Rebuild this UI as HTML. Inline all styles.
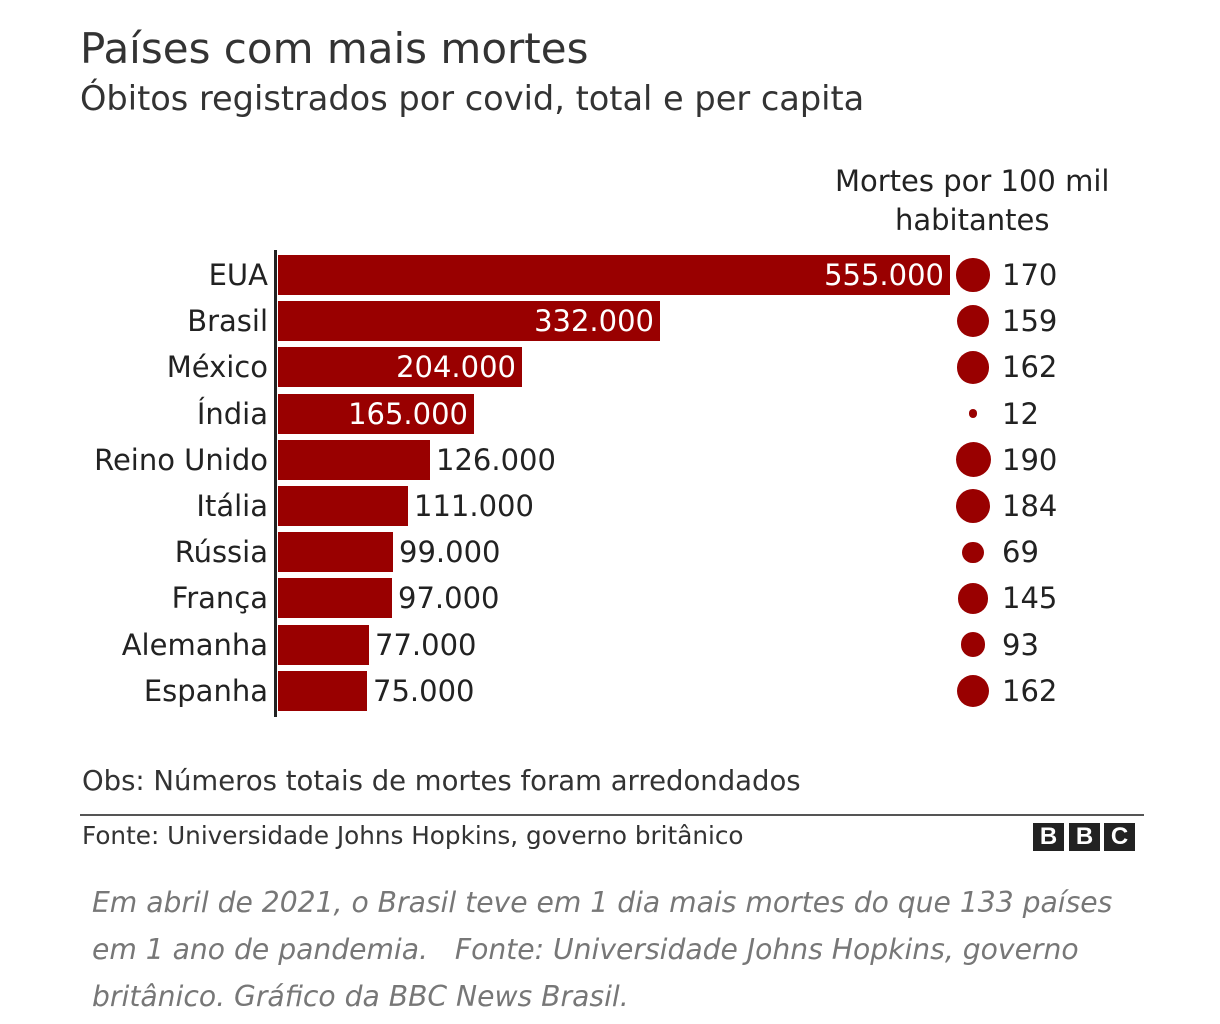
<!DOCTYPE html>
<html><head><meta charset="utf-8"><style>
body{margin:0;width:1220px;height:1024px;background:#fff;position:relative;font-family:"DejaVu Sans","Liberation Sans",sans-serif;color:#222;overflow:hidden}
.a{position:absolute;white-space:nowrap}
.lbl{position:absolute;right:952px;font-size:29px;line-height:40px}
.bar{position:absolute;left:278px;height:40px;background:#990000}
.val{position:absolute;font-size:29px;line-height:40px}
.dot{position:absolute;border-radius:50%;background:#990000}
.pc{position:absolute;left:1002px;font-size:29px;line-height:40px}
.b{position:absolute;top:823px;width:31px;height:28px;background:#222;color:#fff;font:bold 24px "Liberation Sans",sans-serif;text-align:center;line-height:28px}
</style></head><body>
<div class="a" style="left:80px;top:24px;font-size:42px;color:#333">Países com mais mortes</div>
<div class="a" style="left:80px;top:79px;font-size:33.6px;color:#333">Óbitos registrados por covid, total e per capita</div>
<div class="a" style="left:835px;top:162px;font-size:29px;text-align:center;line-height:39px">Mortes por 100 mil<br>habitantes</div>
<div class="a" style="left:274px;top:250px;width:3px;height:467px;background:#222"></div>
<div id="c"></div>
<div class="a" style="left:82px;top:765px;font-size:27.5px;color:#333">Obs: Números totais de mortes foram arredondados</div>
<div class="a" style="left:80px;top:814px;width:1064px;height:2px;background:#555"></div>
<div class="a" style="left:82px;top:821px;font-size:24.7px;color:#333">Fonte: Universidade Johns Hopkins, governo britânico</div>
<div class="b" style="left:1033px">B</div><div class="b" style="left:1069px">B</div><div class="b" style="left:1104px">C</div>
<div class="a" style="left:92px;top:879px;font-size:28.2px;font-style:italic;color:#777;line-height:47px">Em abril de 2021, o Brasil teve em 1 dia mais mortes do que 133 países<br>em 1 ano de pandemia. &nbsp; Fonte: Universidade Johns Hopkins, governo<br>britânico. Gráfico da BBC News Brasil.</div>
<script>
var d=[["EUA",950,"555.000",170],["Brasil",660,"332.000",159],["México",522,"204.000",162],["Índia",474,"165.000",12],["Reino Unido",430,"126.000",190],["Itália",408,"111.000",184],["Rússia",393,"99.000",69],["França",392,"97.000",145],["Alemanha",369,"77.000",93],["Espanha",367,"75.000",162]];
var h="";
d.forEach(function(r,i){var cy=275+i*46.2,t=cy-20;
h+='<div class="lbl" style="top:'+t+'px">'+r[0]+'</div>';
h+='<div class="bar" style="top:'+t+'px;width:'+(r[1]-278)+'px"></div>';
if(i<4)h+='<div class="val" style="top:'+t+'px;right:'+(1220-r[1]+6)+'px;color:#fff">'+r[2]+'</div>';
else h+='<div class="val" style="top:'+t+'px;left:'+(r[1]+6)+'px">'+r[2]+'</div>';
var rr=17.5*Math.sqrt(r[3]/190);
h+='<div class="dot" style="left:'+(973-rr)+'px;top:'+(cy-rr)+'px;width:'+2*rr+'px;height:'+2*rr+'px"></div>';
h+='<div class="pc" style="top:'+t+'px">'+r[3]+'</div>';});
document.getElementById("c").innerHTML=h;
</script>
</body></html>
